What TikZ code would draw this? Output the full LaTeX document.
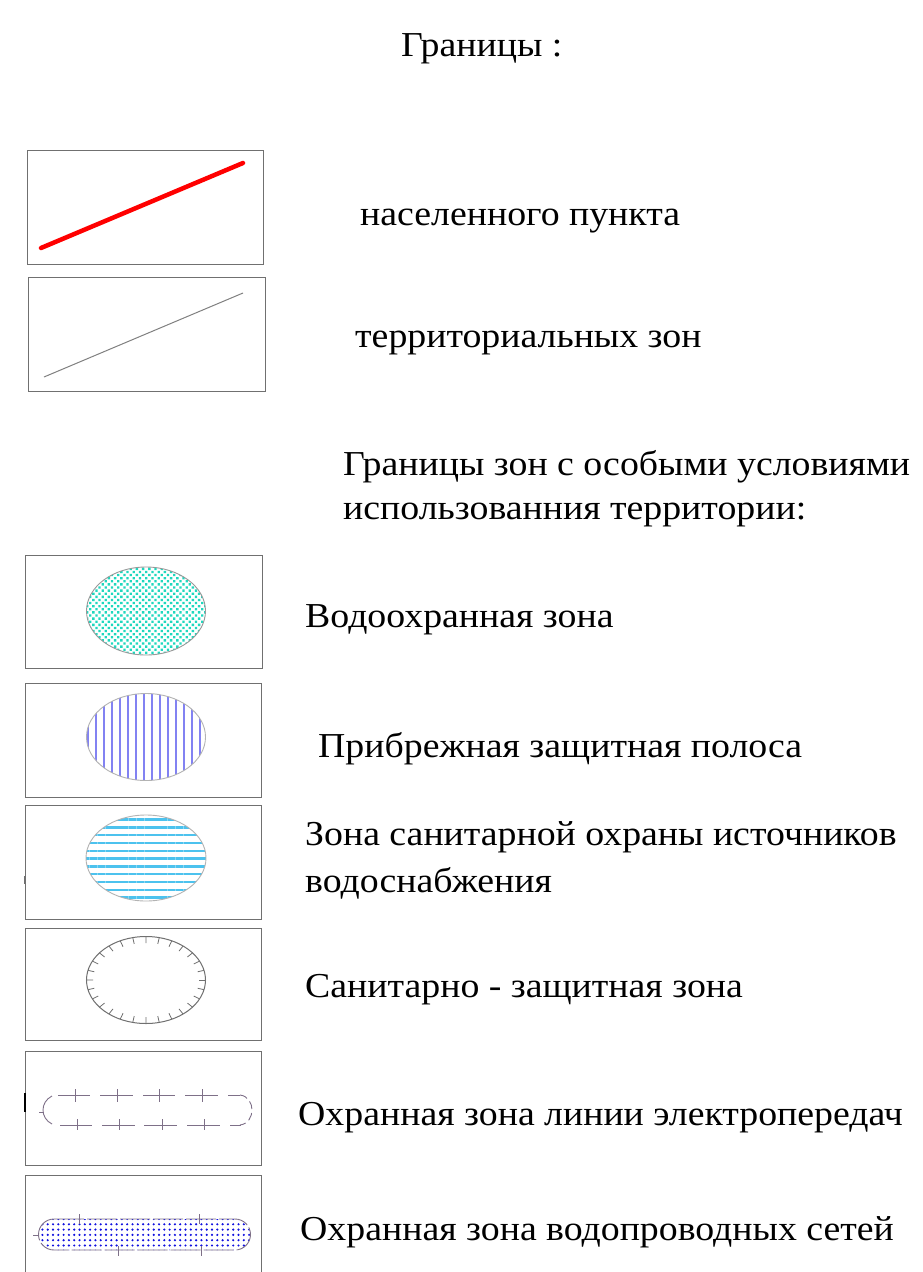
\documentclass[tikz,border=0pt]{standalone}
\usepackage{fontspec}
\setmainfont{Liberation Serif}[FakeStretch=1.08]
\usetikzlibrary{patterns.meta,calc}
\definecolor{boxgray}{HTML}{707070}
\definecolor{linegray}{HTML}{808080}
\definecolor{wcyan}{HTML}{1ED8BE}
\definecolor{vblue}{HTML}{8282F2}
\definecolor{hblue}{HTML}{4CC2EE}
\definecolor{plum}{HTML}{7E7088}
\definecolor{dotblue}{HTML}{1010E0}
\begin{document}
\begin{tikzpicture}[x=1pt,y=-1pt,
  legbox/.style={draw=boxgray, line width=1pt},
  lbl/.style={anchor=base west, inner sep=0pt, font=\fontsize{35}{44}\selectfont, text=black},
  outl/.style={draw=linegray!80, line width=0.9pt},
  tick/.style={draw=plum, line width=0.9pt}]
\useasboundingbox (0,0) rectangle (922,1272);
\fill[white] (0,0) rectangle (922,1272);

% headings
\node[lbl] (t0) at (401,56) {Границы :};
\node[lbl] (t1) at (360,225) {населенного пункта};
\node[lbl] (t2) at (355,347) {территориальных зон};
\node[lbl] (t3a) at (343,475) {Границы зон с особыми условиями};
\node[lbl] (t3b) at (343,519) {использованния территории:};
\node[lbl] (t4) at (305,627) {Водоохранная зона};
\node[lbl] (t5) at (318,757) {Прибрежная защитная полоса};
\node[lbl] (t6a) at (305,845) {Зона санитарной охраны источников};
\node[lbl] (t6b) at (305,892) {водоснабжения};
\node[lbl] (t7) at (305,997) {Санитарно - защитная зона};
\node[lbl] (t8) at (298,1125) {Охранная зона линии электропередач};
\node[lbl] (t9) at (300,1240) {Охранная зона водопроводных сетей};

% box 1 : red line
\draw[legbox] (27,150) rectangle (263,264);
\draw[red, line width=4.5pt, line cap=round] (41,248) -- (243,163);

% box 2 : gray thin line
\draw[legbox] (28,277) rectangle (265,391);
\draw[linegray, line width=1pt] (44,377) -- (243,293);

% box 3 : water protection zone
\draw[legbox] (25,555) rectangle (262,668);
\path[pattern={Dots[angle=45,distance=4.4pt,radius=1.65pt]}, pattern color=wcyan]
  (146,611) ellipse [x radius=59.5pt, y radius=44pt];
\draw[outl] (146,611) ellipse [x radius=59.5pt, y radius=44pt];

% box 4 : coastal protective strip
\draw[legbox] (25,683) rectangle (261,797);
\path[pattern={Lines[angle=90,distance=8pt,line width=2.4pt]}, pattern color=vblue]
  (146,737) ellipse [x radius=59.5pt, y radius=43.5pt];
\draw[draw=linegray!60, line width=0.9pt] (146,737) ellipse [x radius=59.5pt, y radius=43.5pt];

% box 5 : sanitary protection of water sources
\draw[legbox] (25,805) rectangle (261,919);
\draw[boxgray, line width=1.2pt] (25,876) -- (25,884);
\path[pattern={Lines[angle=0,distance=7.8pt,line width=2.4pt]}, pattern color=hblue]
  (146,858) ellipse [x radius=60pt, y radius=43pt];
\draw[draw=linegray!60, line width=0.9pt] (146,858) ellipse [x radius=60pt, y radius=43pt];

% box 6 : sanitary-protective zone
\draw[legbox] (25,928) rectangle (261,1040);
\draw[draw=boxgray, line width=1pt] (146,980) ellipse [x radius=59.5pt, y radius=43.5pt];
\foreach \a in {0,12.857,...,359}
  \draw[boxgray, line width=0.8pt] ($(146,980)+(\a:59.5pt and 43.5pt)$) -- ($(146,980)+(\a:53pt and 37pt)$);

% box 7 : power line protection zone
\draw[legbox] (25,1051) rectangle (261,1165);
\draw[black, line width=2pt] (25,1093) -- (25,1112);
\foreach \xa/\xb in {58/90,100/133,143/175,185/218}
  \draw[tick] (\xa,1095) -- (\xb,1095);
\foreach \xa/\xb in {60/92,102/135,144/177,187/220}
  \draw[tick] (\xa,1125) -- (\xb,1125);
\draw[tick] (228,1095) -- (240,1095);
\draw[tick] (230,1125) -- (241,1125);
\foreach \x in {75,117,159,202}
  \draw[tick] (\x,1089) -- (\x,1102);
\foreach \x in {77,119,162,204}
  \draw[tick] (\x,1119) -- (\x,1130);
\draw[tick] (52,1096) .. controls (40,1102) and (40,1118) .. (52,1124);
\draw[tick] (39,1112) -- (44,1112);
\draw[tick, dash pattern=on 8pt off 4pt] (240,1095) .. controls (256,1097) and (256,1123) .. (240,1125);

% box 8 : water pipe protection zone
\draw[legbox] (25,1280) -- (25,1175) -- (261,1175) -- (261,1280);
\path[pattern={Dots[angle=0,distance=5.3pt,radius=1.2pt]}, pattern color=dotblue]
  (54,1219) -- (235,1219) arc[start angle=90, end angle=-90, radius=15.5pt] -- (54,1250) arc[start angle=270, end angle=90, radius=15.5pt] -- cycle;
\draw[plum, line width=0.9pt, dash pattern=on 30pt off 3pt] (54,1219) -- (235,1219) arc[start angle=90, end angle=-90, radius=15.5pt] -- (54,1250) arc[start angle=270, end angle=90, radius=15.5pt] -- cycle;
\foreach \x in {79,199}
  \draw[tick] (\x,1214) -- (\x,1224);
\foreach \x in {118,201}
  \draw[tick] (\x,1246) -- (\x,1256);
\draw[tick] (33,1235) -- (39,1235);
\end{tikzpicture}
\end{document}
